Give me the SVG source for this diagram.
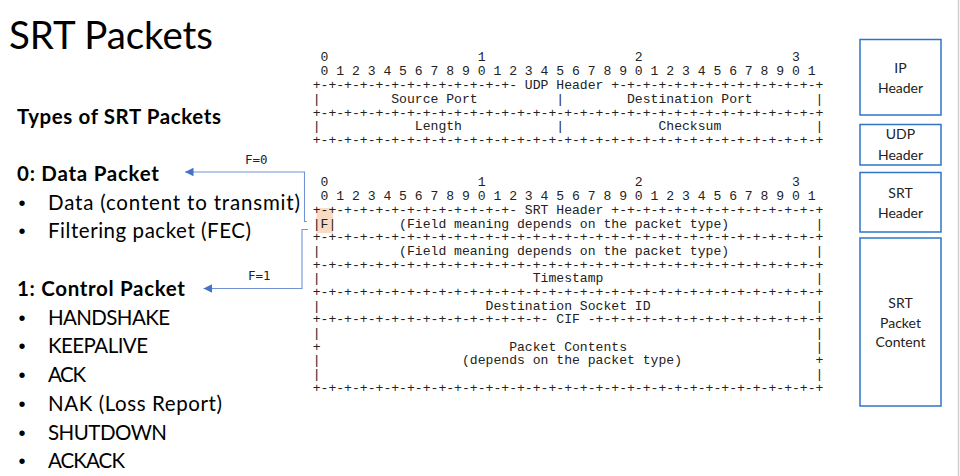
<svg xmlns="http://www.w3.org/2000/svg" width="960" height="476" viewBox="0 0 960 476">
<style>
.mono { font-family: "Liberation Mono", "DejaVu Sans Mono", monospace; font-size: 13.1px; fill: #222; white-space: pre; }
.title { font-family: Lato, "Liberation Sans", sans-serif; font-size: 38.5px; fill: #000; }
.head { font-family: Lato, "Liberation Sans", sans-serif; font-size: 20.5px; font-weight: bold; fill: #000; }
.item { font-family: Lato, "Liberation Sans", sans-serif; font-size: 20.5px; fill: #000; }
.bul { font-family: "Liberation Sans", sans-serif; font-size: 20px; fill: #000; text-anchor: middle; }
.box { fill: #fff; stroke: #2e75c6; stroke-width: 1.5; }
.boxt { font-family: Lato, "Liberation Sans", sans-serif; font-size: 14px; fill: #222; text-anchor: middle; }
.conn { fill: none; stroke: #6f93d3; stroke-width: 1.1; }
.lbl { font-family: "DejaVu Sans Mono", "Liberation Mono", monospace; font-size: 12.5px; fill: #222; }
</style>
<defs>
<marker id="arr" viewBox="0 0 10 10" refX="10" refY="5" markerWidth="8.5" markerHeight="9.5" markerUnits="userSpaceOnUse" orient="auto">
<path d="M0,0 L10,5 L0,10 z" fill="#4472c4"/>
</marker>
</defs>
<rect width="960" height="476" fill="#fff"/>
<line x1="958.5" y1="0" x2="958.5" y2="476" stroke="#cfcfcf" stroke-width="1.5"/>

<g id="title">
<text class="title" x="9" y="49.3" textLength="204">SRT Packets</text>
</g>

<g id="types-list">
<text class="head" x="17" y="124" textLength="204">Types of SRT Packets</text>
</g>
<g id="data-packet">
<text class="head" x="17" y="181" textLength="142">0: Data Packet</text>
<text class="bul" x="22" y="210">•</text>
<text class="item" x="48" y="210" textLength="252">Data (content to transmit)</text>
<text class="bul" x="22" y="238">•</text>
<text class="item" x="48" y="238" textLength="203">Filtering packet (FEC)</text>
</g>
<g id="control-packet">
<text class="head" x="17" y="296" textLength="168">1: Control Packet</text>
<text class="bul" x="22" y="325">•</text>
<text class="item" x="48" y="325" textLength="122">HANDSHAKE</text>
<text class="bul" x="22" y="353">•</text>
<text class="item" x="48" y="353" textLength="100">KEEPALIVE</text>
<text class="bul" x="22" y="382">•</text>
<text class="item" x="48" y="382" textLength="38">ACK</text>
<text class="bul" x="22" y="411">•</text>
<text class="item" x="48" y="411" textLength="174">NAK (Loss Report)</text>
<text class="bul" x="22" y="440">•</text>
<text class="item" x="48" y="440" textLength="119">SHUTDOWN</text>
<text class="bul" x="22" y="468">•</text>
<text class="item" x="48" y="468" textLength="77">ACKACK</text>
</g>

<g id="udp-header-layout">
<text class="mono" xml:space="preserve" x="312.7" y="61.4"> 0                   1                   2                   3</text>
<text class="mono" xml:space="preserve" x="312.7" y="75.2"> 0 1 2 3 4 5 6 7 8 9 0 1 2 3 4 5 6 7 8 9 0 1 2 3 4 5 6 7 8 9 0 1</text>
<text class="mono" xml:space="preserve" x="312.7" y="89">+-+-+-+-+-+-+-+-+-+-+-+-+- UDP Header +-+-+-+-+-+-+-+-+-+-+-+-+-+</text>
<text class="mono" xml:space="preserve" x="312.7" y="102.8">|         Source Port          |        Destination Port        |</text>
<text class="mono" xml:space="preserve" x="312.7" y="116.6">+-+-+-+-+-+-+-+-+-+-+-+-+-+-+-+-+-+-+-+-+-+-+-+-+-+-+-+-+-+-+-+-+</text>
<text class="mono" xml:space="preserve" x="312.7" y="130.4">|            Length            |            Checksum            |</text>
<text class="mono" xml:space="preserve" x="312.7" y="144.2">+-+-+-+-+-+-+-+-+-+-+-+-+-+-+-+-+-+-+-+-+-+-+-+-+-+-+-+-+-+-+-+-+</text>
</g>

<g id="srt-header-layout">
<rect x="316.5" y="208" width="16.5" height="25" fill="#f9dcc4"/>
<text class="mono" xml:space="preserve" x="312.7" y="186.4"> 0                   1                   2                   3</text>
<text class="mono" xml:space="preserve" x="312.7" y="200.1"> 0 1 2 3 4 5 6 7 8 9 0 1 2 3 4 5 6 7 8 9 0 1 2 3 4 5 6 7 8 9 0 1</text>
<text class="mono" xml:space="preserve" x="312.7" y="213.8">+-+-+-+-+-+-+-+-+-+-+-+-+- SRT Header +-+-+-+-+-+-+-+-+-+-+-+-+-+</text>
<text class="mono" xml:space="preserve" x="312.7" y="227.5">|F|        (Field meaning depends on the packet type)           |</text>
<text class="mono" xml:space="preserve" x="312.7" y="241.2">+-+-+-+-+-+-+-+-+-+-+-+-+-+-+-+-+-+-+-+-+-+-+-+-+-+-+-+-+-+-+-+-+</text>
<text class="mono" xml:space="preserve" x="312.7" y="254.9">|          (Field meaning depends on the packet type)           |</text>
<text class="mono" xml:space="preserve" x="312.7" y="268.5">+-+-+-+-+-+-+-+-+-+-+-+-+-+-+-+-+-+-+-+-+-+-+-+-+-+-+-+-+-+-+-+-+</text>
<text class="mono" xml:space="preserve" x="312.7" y="282.2">|                           Timestamp                           |</text>
<text class="mono" xml:space="preserve" x="312.7" y="295.9">+-+-+-+-+-+-+-+-+-+-+-+-+-+-+-+-+-+-+-+-+-+-+-+-+-+-+-+-+-+-+-+-+</text>
<text class="mono" xml:space="preserve" x="312.7" y="309.6">|                     Destination Socket ID                     |</text>
<text class="mono" xml:space="preserve" x="312.7" y="323.3">+-+-+-+-+-+-+-+-+-+-+-+-+-+-+- CIF -+-+-+-+-+-+-+-+-+-+-+-+-+-+-+</text>
<text class="mono" xml:space="preserve" x="312.7" y="337">|                                                               |</text>
<text class="mono" xml:space="preserve" x="312.7" y="350.7">+                        Packet Contents                        |</text>
<text class="mono" xml:space="preserve" x="312.7" y="364.4">|                  (depends on the packet type)                 +</text>
<text class="mono" xml:space="preserve" x="312.7" y="378">|                                                               |</text>
<text class="mono" xml:space="preserve" x="312.7" y="391.7">+-+-+-+-+-+-+-+-+-+-+-+-+-+-+-+-+-+-+-+-+-+-+-+-+-+-+-+-+-+-+-+-+</text>
</g>

<g id="ip-header">
<rect class="box" x="860" y="39.5" width="81" height="75.5"/>
<text class="boxt" x="900.5" y="73">IP</text>
<text class="boxt" x="900.5" y="93">Header</text>
</g>
<g id="udp-header">
<rect class="box" x="860" y="124.5" width="81" height="40.5"/>
<text class="boxt" x="900.5" y="139">UDP</text>
<text class="boxt" x="900.5" y="160">Header</text>
</g>
<g id="srt-header">
<rect class="box" x="860" y="172.5" width="81" height="59.5"/>
<text class="boxt" x="900.5" y="198">SRT</text>
<text class="boxt" x="900.5" y="218">Header</text>
</g>
<g id="srt-packet-content">
<rect class="box" x="860" y="238" width="81" height="168"/>
<text class="boxt" x="900.5" y="308">SRT</text>
<text class="boxt" x="900.5" y="328">Packet</text>
<text class="boxt" x="900.5" y="347">Content</text>
</g>

<g id="connectors">
<path class="conn" d="M307,221.5 H304.5 V172 H185" marker-end="url(#arr)"/>
<path class="conn" d="M308,229.5 H302 V288.5 H203.5" marker-end="url(#arr)"/>
<text class="lbl" x="245" y="164.3">F=0</text>
<text class="lbl" x="248" y="279.5">F=1</text>
</g>
</svg>
